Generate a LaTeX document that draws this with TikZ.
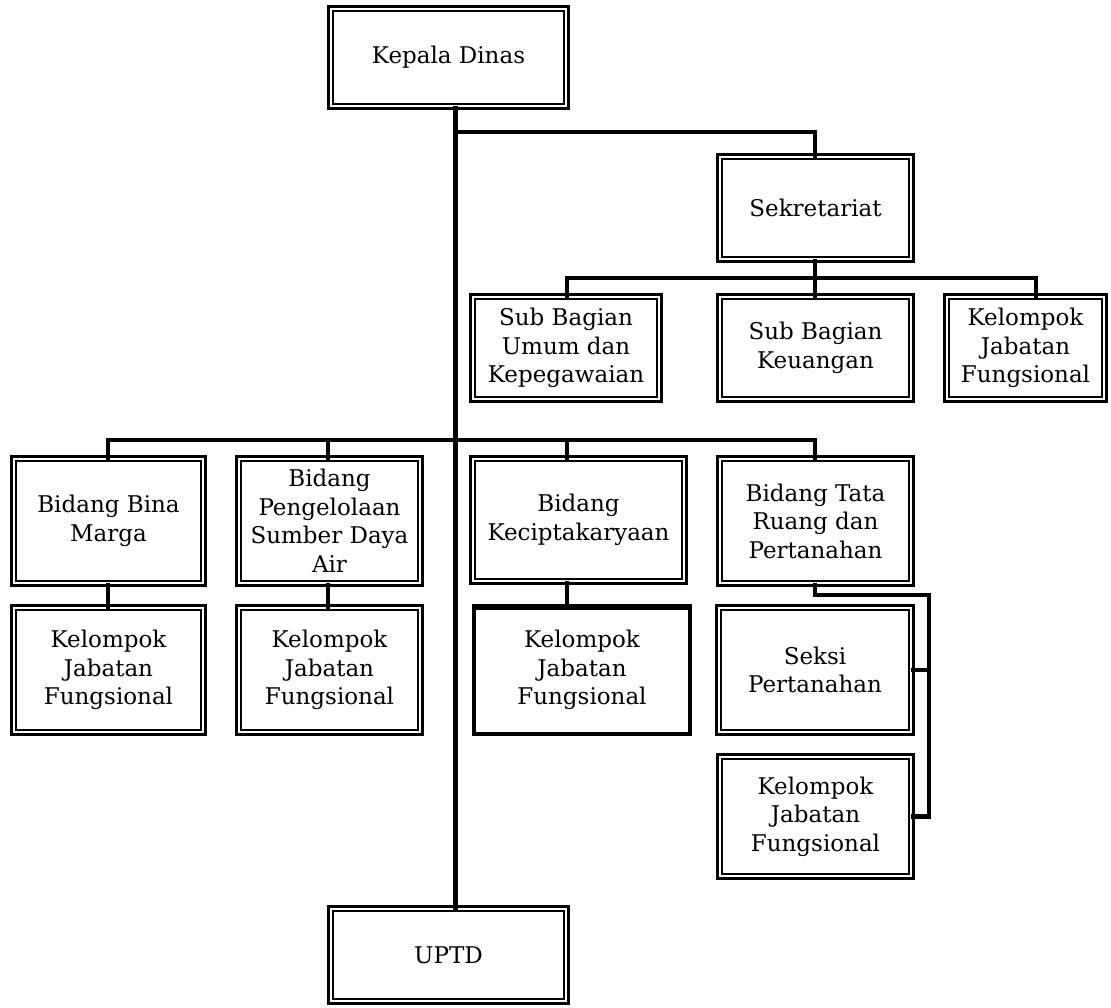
\documentclass[tikz,border=0pt]{standalone}
\usepackage{fontspec}
\setmainfont{DejaVu Serif}
\begin{document}
\begin{tikzpicture}[x=1pt,y=-1pt,
  conn/.style={line width=4.4pt, line cap=rect},
  dbox/.style={draw, line width=2.7pt, double=white, double distance=1.9pt,
    align=center, inner sep=0pt, font=\fontsize{23}{28.5}\selectfont},
  sbox/.style={draw, line width=4pt,
    align=center, inner sep=0pt, font=\fontsize{23}{28.5}\selectfont}]
\useasboundingbox (0,0) rectangle (1111,1007);
% box helper: centre, outer width and height (double rule is 7.3pt overall)
\def\bx#1#2#3#4#5#6{\node[dbox, minimum width=#4pt-7.3pt, minimum height=#5pt-7.3pt] (#1) at (#2,#3) {#6};}
\bx{kd}{448.5}{57.5}{243}{105}{Kepala Dinas}
\bx{sek}{815.5}{208}{199}{110}{Sekretariat}
\bx{umum}{566}{348}{194}{110}{Sub Bagian\\Umum dan\\Kepegawaian}
\bx{keu}{815.5}{348}{199}{110}{Sub Bagian\\Keuangan}
\bx{kjfa}{1025.5}{348}{165}{110}{Kelompok\\Jabatan\\Fungsional}
\bx{bm}{108.5}{521}{197}{132}{Bidang Bina\\Marga}
\bx{psda}{329.5}{521}{189}{132}{Bidang\\Pengelolaan\\Sumber Daya\\Air}
\bx{kcp}{578.5}{520}{219}{130}{Bidang\\Keciptakaryaan}
\bx{tr}{815.5}{521}{199}{132}{Bidang Tata\\Ruang dan\\Pertanahan}
\bx{kjfb}{108.5}{670}{197}{132}{Kelompok\\Jabatan\\Fungsional}
\bx{kjfc}{329.5}{670}{189}{132}{Kelompok\\Jabatan\\Fungsional}
\bx{seksi}{815}{670}{200}{132}{Seksi\\Pertanahan}
\bx{kjfe}{815.5}{816.5}{199}{127}{Kelompok\\Jabatan\\Fungsional}
\bx{uptd}{448.5}{955}{243}{100}{UPTD}
% single-ruled box with a second rule across its top
\node[sbox, minimum width=220pt-4pt, minimum height=132pt-4pt] (kjfd) at (582,670) {Kelompok\\Jabatan\\Fungsional};
\draw[line width=2pt] ([yshift=-4.5pt]kjfd.north west) -- ([yshift=-4.5pt]kjfd.north east);

% guide coordinates for the connector runs
\coordinate (trunk) at (455.5,0);
\coordinate (h1) at (0,132);
\coordinate (h2) at (0,278);
\coordinate (h3) at (0,440);
\coordinate (x1) at (108,0);
\coordinate (x2) at (328,0);
\coordinate (x3) at (567,0);
\coordinate (x4) at (815,0);
\coordinate (x5) at (1036,0);
\coordinate (x6) at (929,0);
\coordinate (h4) at (0,595);

% main trunk
\draw[conn] (kd.south -| trunk) -- (uptd.north -| trunk);
% secretariat branch
\draw[conn] (h1 -| trunk) -- (h1 -| x4) -- (sek.north -| x4);
\draw[conn] (sek.south -| x4) -- (h2 -| x4);
\draw[conn] (h2 -| x3) -- (h2 -| x5);
\draw[conn] (h2 -| x3) -- (umum.north -| x3);
\draw[conn] (h2 -| x4) -- (keu.north -| x4);
\draw[conn] (h2 -| x5) -- (kjfa.north -| x5);
% divisions
\draw[conn] (h3 -| x1) -- (h3 -| x4);
\draw[conn] (h3 -| x1) -- (bm.north -| x1);
\draw[conn] (h3 -| x2) -- (psda.north -| x2);
\draw[conn] (h3 -| x3) -- (kcp.north -| x3);
\draw[conn] (h3 -| x4) -- (tr.north -| x4);
% functional groups under each division
\draw[conn] (bm.south -| x1) -- (kjfb.north -| x1);
\draw[conn] (psda.south -| x2) -- (kjfc.north -| x2);
\draw[conn] (kcp.south -| x3) -- (kjfd.north -| x3);
% spatial planning division
\draw[conn] (tr.south -| x4) -- (h4 -| x4) -- (h4 -| x6) -- (kjfe.east -| x6);
\draw[conn] (seksi.east) -- (seksi.east -| x6);
\draw[conn] (kjfe.east) -- (kjfe.east -| x6);
\end{tikzpicture}
\end{document}
